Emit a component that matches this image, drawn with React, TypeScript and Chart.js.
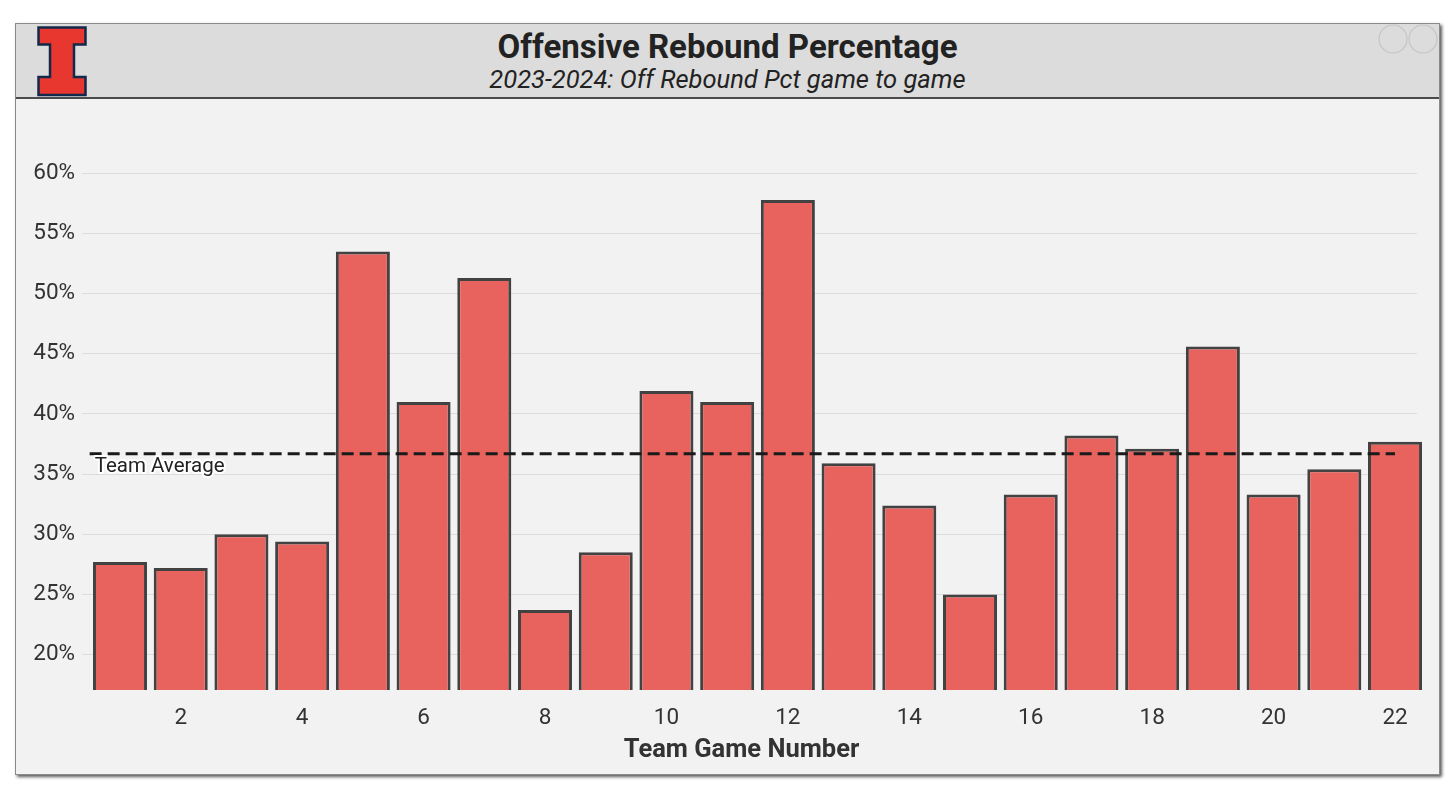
import React, { useEffect, useRef } from "react";
import { Chart, registerables } from "chart.js";

Chart.register(...registerables);

// ---- data ----
const GAMES = [1, 2, 3, 4, 5, 6, 7, 8, 9, 10, 11, 12, 13, 14, 15, 16, 17, 18, 19, 20, 21, 22];
const OFF_REB_PCT = [
  27.7, 27.2, 30.0, 29.4, 53.5, 41.0, 51.3, 23.7, 28.5, 41.9, 41.0,
  57.8, 35.9, 32.4, 25.0, 33.3, 38.2, 37.1, 45.6, 33.3, 35.4, 37.7,
];
const TEAM_AVERAGE = 36.7;
const AVERAGE_SPAN = [0.5, 22];
const X_TICKS = [2, 4, 6, 8, 10, 12, 14, 16, 18, 20, 22];
const Y_TICKS = [20, 25, 30, 35, 40, 45, 50, 55, 60];
const X_RANGE = [0.374, 22.362];
const Y_RANGE = [17.05, 64.4];

const TITLE = "Offensive Rebound Percentage";
const SUBTITLE = "2023-2024: Off Rebound Pct game to game";
const X_TITLE = "Team Game Number";
const AVG_LABEL = "Team Average";

const FONT = "Roboto, 'Noto Sans', sans-serif";

const annotationsPlugin = {
  id: "annotationsText",
  afterDatasetsDraw(chart: any) {
    const { ctx, scales, chartArea } = chart;
    // Team Average label
    const px = scales.x.getPixelForValue(AVERAGE_SPAN[0]) + 5;
    const py = scales.y.getPixelForValue(TEAM_AVERAGE) + 13.5;
    ctx.save();
    ctx.font = `20.5px ${FONT}`;
    ctx.textBaseline = "middle";
    ctx.textAlign = "left";
    ctx.lineJoin = "round";
    ctx.lineWidth = 4;
    ctx.strokeStyle = "#ffffff";
    ctx.strokeText(AVG_LABEL, px, py);
    ctx.fillStyle = "#222222";
    ctx.fillText(AVG_LABEL, px, py);
    ctx.restore();
    // x axis title
    ctx.save();
    ctx.font = `bold 25.5px ${FONT}`;
    ctx.textBaseline = "alphabetic";
    ctx.textAlign = "center";
    ctx.fillStyle = "#333333";
    ctx.fillText(X_TITLE, (chartArea.left + chartArea.right) / 2 - 8, chartArea.bottom + 67);
    ctx.restore();
  },
};

function OffRebChart() {
  const ref = useRef<HTMLCanvasElement | null>(null);
  useEffect(() => {
    if (!ref.current) return;
    const chart = new Chart(ref.current, {
      type: "bar",
      data: {
        datasets: [
          {
            type: "line",
            label: AVG_LABEL,
            data: AVERAGE_SPAN.map((x) => ({ x, y: TEAM_AVERAGE })),
            borderColor: "#1a1a1a",
            borderWidth: 3,
            borderDash: [12, 6],
            pointRadius: 0,
            fill: false,
            order: 0,
          } as any,
          {
            type: "bar",
            label: "Off Reb %",
            data: GAMES.map((g, i) => ({ x: g, y: OFF_REB_PCT[i] })),
            backgroundColor: "rgb(233,99,94)",
            borderColor: "rgb(66,66,66)",
            borderWidth: 3,
            categoryPercentage: 1,
            barPercentage: 0.89,
            base: Y_RANGE[0],
            clip: false,
            order: 1,
          } as any,
        ],
      },
      options: {
        animation: false,
        responsive: true,
        maintainAspectRatio: false,
        layout: { padding: { top: 20, right: 21, left: 0, bottom: 0 } },
        plugins: {
          legend: { display: false },
          tooltip: { enabled: false },
        },
        scales: {
          x: {
            type: "linear",
            min: X_RANGE[0],
            max: X_RANGE[1],
            offset: false,
            grid: { display: false, drawTicks: false },
            border: { display: false },
            afterBuildTicks: (axis: any) => {
              axis.ticks = X_TICKS.map((value) => ({ value }));
            },
            afterFit: (axis: any) => {
              axis.height = 82;
            },
            ticks: {
              padding: 15,
              color: "#333333",
              font: { family: FONT, size: 22.5 },
              maxRotation: 0,
              autoSkip: false,
            },
          },
          y: {
            type: "linear",
            min: Y_RANGE[0],
            max: Y_RANGE[1],
            grid: { color: "#dcdcdc", lineWidth: 1, drawTicks: false },
            border: { display: false },
            afterBuildTicks: (axis: any) => {
              axis.ticks = Y_TICKS.map((value) => ({ value }));
            },
            afterFit: (axis: any) => {
              axis.width = 66;
            },
            ticks: {
              padding: 7,
              color: "#333333",
              font: { family: FONT, size: 22.5 },
              callback: (v: any) => `${v}%`,
            },
          },
        },
      } as any,
      plugins: [annotationsPlugin],
    });
    return () => chart.destroy();
  }, []);
  return <canvas ref={ref} />;
}

function Logo() {
  return (
    <svg
      width={50}
      height={71}
      style={{ position: "absolute", left: 36.5, top: 25.5 }}
      viewBox="0 0 50 71"
    >
      <polygon
        points="1.5,1.5 48.5,1.5 48.5,18.5 37,18.5 37,51 48.5,51 48.5,69 1.5,69 1.5,51 13,51 13,18.5 1.5,18.5"
        fill="#e8372f"
        stroke="#13294b"
        strokeWidth={2.5}
        strokeLinejoin="miter"
      />
    </svg>
  );
}

export default function App() {
  return (
    <div
      style={{
        position: "absolute",
        left: 0,
        top: 0,
        width: 1456,
        height: 801,
        background: "#ffffff",
        fontFamily: FONT,
        overflow: "hidden",
      }}
    >
      {/* card */}
      <div
        style={{
          position: "absolute",
          left: 15,
          top: 23,
          width: 1423,
          height: 750,
          background: "#f2f2f2",
          border: "1px solid #8a8a8a",
          boxShadow: "2px 2px 3px rgba(0,0,0,0.65)",
        }}
      />
      {/* header */}
      <div
        style={{
          position: "absolute",
          left: 16,
          top: 24,
          width: 1423,
          height: 73,
          background: "#dcdcdc",
          borderBottom: "2px solid #4a4a4a",
        }}
      />
      <Logo />
      <svg
        width={80}
        height={40}
        style={{ position: "absolute", left: 1370, top: 19 }}
      >
        <circle cx={23} cy={20} r={14} fill="none" stroke="#c4c4c4" strokeWidth={1.2} />
        <circle cx={53} cy={20} r={14} fill="none" stroke="#c4c4c4" strokeWidth={1.2} />
      </svg>
      <div
        style={{
          position: "absolute",
          left: 15,
          width: 1425,
          top: 30,
          textAlign: "center",
          fontSize: 33,
          lineHeight: "33px",
          fontWeight: 700,
          color: "#222222",
          whiteSpace: "nowrap",
        }}
      >
        {TITLE}
      </div>
      <div
        style={{
          position: "absolute",
          left: 15,
          width: 1425,
          top: 66.5,
          textAlign: "center",
          fontSize: 25.5,
          lineHeight: "25.5px",
          fontStyle: "italic",
          color: "#222222",
          whiteSpace: "nowrap",
        }}
      >
        {SUBTITLE}
      </div>
      {/* chart */}
      <div
        style={{
          position: "absolute",
          left: 16,
          top: 100,
          width: 1422,
          height: 672,
        }}
      >
        <OffRebChart />
      </div>
    </div>
  );
}
